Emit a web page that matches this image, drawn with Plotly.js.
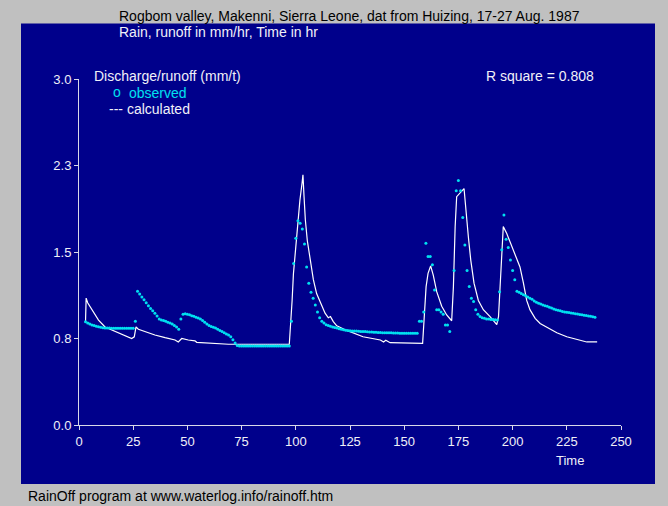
<!DOCTYPE html>
<html>
<head>
<meta charset="utf-8">
<script src="https://cdn.plot.ly/plotly-3.0.1.min.js"></script>
<style>html,body{margin:0;padding:0;background:#c0c0c0;}#chart{width:668px;height:506px;}</style>
</head>
<body>
<div id="chart"></div>
<script>
// ---- data (time in hr, discharge in mm/hr) ----
var obsTime = [
 3,4,5,6,7,8,9,10,11,12,13,14,15,16,17,18,19,20,21,22,23,24,25,
 26,27,28,29,30,31,32,33,34,35,36,37,38,39,40,41,42,43,44,45,46,
 47,48,49,50,51,52,53,54,55,56,57,58,59,60,61,62,63,64,65,66,67,68,69,70,71,72,73,
 74,75,76,77,78,79,80,81,82,83,84,85,86,87,88,89,90,91,92,93,94,95,96,97,
 98,99,100,101,102,103,104,105,106,107,108,109,110,111,112,113,114,115,116,117,118,119,120,
 121,122,123,124,125,126,127,128,129,130,131,132,133,134,135,136,137,138,139,140,
 141,142,143,144,145,146,147,148,149,150,151,152,153,154,155,156,
 157,158,159,160,161,162,163,164,165,166,167,168,169,170,171,
 173,174,175,176,177,178,179,180,181,182,183,184,185,186,187,188,189,190,191,192,193,
 194,195,196,197,198,199,200,201,202,203,204,205,206,207,208,209,210,
 211,212,213,214,215,216,217,218,219,220,221,222,223,224,225,226,227,228,229,230,
 231,232,233,234,235,236,237,238
];
var obsQ = [
 0.895,0.885,0.875,0.868,0.862,0.856,0.851,0.847,0.844,0.842,0.840,0.840,0.839,0.839,0.838,0.838,0.838,0.838,0.838,0.838,0.838,0.838,0.838,
 0.90,1.16,1.135,1.11,1.085,1.06,1.035,1.01,0.99,0.97,0.945,0.92,0.91,0.905,0.90,0.89,0.885,0.875,0.862,0.85,0.83,
 0.92,0.96,0.965,0.96,0.955,0.948,0.942,0.935,0.928,0.92,0.905,0.89,0.875,0.862,0.855,0.848,0.84,0.83,0.82,0.81,0.80,0.79,0.78,0.765,0.74,0.71,0.69,
 0.685,0.685,0.685,0.685,0.685,0.685,0.685,0.685,0.685,0.685,0.685,0.685,0.685,0.685,0.685,0.685,0.685,0.685,0.685,0.685,0.685,0.685,0.685,0.685,
 0.90,1.40,1.62,1.77,1.75,1.70,1.57,1.37,1.23,1.15,1.10,1.04,0.98,0.93,0.90,0.885,0.87,0.862,0.856,0.85,0.845,0.84,0.835,
 0.83,0.825,0.822,0.82,0.818,0.816,0.815,0.814,0.812,0.811,0.81,0.81,0.808,0.807,0.806,0.805,0.804,0.803,0.802,0.80,
 0.80,0.80,0.80,0.80,0.798,0.798,0.798,0.796,0.796,0.796,0.796,0.796,0.796,0.796,0.796,0.796,
 0.90,0.90,0.98,1.575,1.46,1.46,1.39,1.17,1.00,1.00,0.98,0.96,0.867,0.867,0.81,
 1.34,2.03,2.12,2.03,1.80,1.56,1.34,1.20,1.10,1.07,1.00,0.96,0.94,0.93,0.925,0.92,0.918,0.915,0.915,0.912,0.91,
 1.156,1.52,1.82,1.61,1.54,1.43,1.34,1.26,1.16,1.15,1.14,1.13,1.12,1.11,1.10,1.09,1.075,
 1.065,1.055,1.05,1.04,1.035,1.03,1.02,1.015,1.005,1.00,0.995,0.99,0.985,0.98,0.978,0.975,0.972,0.97,0.965,0.962,
 0.958,0.955,0.952,0.95,0.945,0.942,0.938,0.935
];
var calcTime = [3,3.3,4,6,9,12,16.6,21.2,24.3,25.5,26.3,27.4,30.4,35,39.7,44.3,45.8,47.4,50.4,53.5,54.3,60,62,69,97,
 97.6,98.3,98.9,99.8,100.7,101.9,102.9,103.3,103.8,104.4,105.3,106.6,108.1,109.6,111.5,113.5,115,116,117.3,118.9,123.5,131,139,140.5,141.5,143.5,158.5,
 159.2,160.1,161,162.2,163.4,165,167.3,169.6,171.9,172.7,173.5,174.2,177.6,178.5,179.6,180.7,182.2,184.2,186.5,189.6,192.7,
 193.5,194.2,195,195.7,197.3,199.6,201.9,203.4,205,206.5,208,210.4,212.7,216.5,220.4,225,229.6,234.2,239];
var calcQ = [0.89,1.10,1.06,1.0,0.91,0.85,0.81,0.775,0.75,0.765,0.85,0.83,0.81,0.78,0.757,0.737,0.72,0.75,0.737,0.73,0.717,0.712,0.705,0.70,0.70,
 0.84,1.08,1.31,1.52,1.72,1.95,2.10,2.17,1.98,1.78,1.60,1.43,1.26,1.14,1.055,0.97,0.93,0.94,0.896,0.86,0.82,0.765,0.737,0.72,0.735,0.714,0.708,
 0.91,1.20,1.315,1.38,1.30,1.156,1.03,0.954,0.904,1.20,1.72,1.98,2.05,1.835,1.63,1.43,1.23,1.08,1.00,0.94,0.87,
 0.94,1.23,1.52,1.72,1.66,1.55,1.445,1.37,1.23,1.08,1.00,0.925,0.88,0.84,0.80,0.765,0.743,0.72,0.72];
var yTickVals = [0, 0.75, 1.5, 2.25, 3.0];
var yTickText = ["0.0", "0.8", "1.5", "2.3", "3.0"];
var xTickVals = [0,25,50,75,100,125,150,175,200,225,250];

// ---- layout helpers (pixel -> paper) ----
var L = 79, R = 621, T = 79, B = 425;
function PX(x){ return (x - L) / (R - L); }
function PY(y){ return (B - y) / (B - T); }
function ann(text, x, y, color, anchor, size){
  return {text: text, x: PX(x), y: PY(y), xref: 'paper', yref: 'paper', showarrow: false,
    xanchor: anchor || 'left', yanchor: 'middle', font: {color: color, size: size || 14}};
}
var FG = '#f0f0f8';
var BLUE = '#00008b';
var CYAN = '#00e0f0';

var traces = [
  {x: calcTime, y: calcQ, mode: 'lines', type: 'scatter', line: {color: '#ffffff', width: 1.2}, hoverinfo: 'skip'},
  {x: obsTime, y: obsQ, mode: 'markers', type: 'scatter', marker: {color: CYAN, size: 3, symbol: 'circle'}, hoverinfo: 'skip'}
];

var layout = {
  width: 668, height: 506,
  margin: {l: L, r: 668 - R, t: T, b: 506 - B, pad: 0},
  paper_bgcolor: '#c0c0c0', plot_bgcolor: BLUE,
  showlegend: false,
  font: {family: 'Liberation Sans, Arial, sans-serif', size: 13, color: FG},
  xaxis: {range: [0, 250], tickvals: xTickVals, showgrid: false, zeroline: false,
    showline: true, linecolor: '#d8d8e8', linewidth: 1, ticks: 'outside', ticklen: 4, tickcolor: '#d8d8e8',
    tickfont: {color: FG, size: 13}, fixedrange: true},
  yaxis: {range: [0, 3], tickvals: yTickVals, ticktext: yTickText, showgrid: false, zeroline: false,
    showline: true, linecolor: '#d8d8e8', linewidth: 1, ticks: 'outside', ticklen: 4, tickcolor: '#d8d8e8',
    tickfont: {color: FG, size: 13}, fixedrange: true},
  shapes: [
    {type: 'rect', xref: 'paper', yref: 'paper', x0: PX(21), x1: PX(655), y0: PY(484), y1: PY(23.5),
     fillcolor: BLUE, line: {width: 0}, layer: 'below'}
  ],
  annotations: [
    ann('Rogbom valley, Makenni, Sierra Leone, dat from Huizing, 17-27 Aug. 1987', 117, 16.5, '#000000'),
    ann('Rain, runoff in mm/hr, Time in hr', 117, 32, FG),
    ann('Discharge/runoff (mm/t)', 92, 76, FG),
    ann('o', 111, 92, CYAN),
    ann('observed', 127, 93, CYAN),
    ann('--- calculated', 107, 109, FG),
    ann('R square = 0.808', 484, 76, FG),
    ann('Time', 570, 460, FG, 'center', 13),
    ann('RainOff program at www.waterlog.info/rainoff.htm', 26, 496, '#000000')
  ]
};

Plotly.newPlot('chart', traces, layout, {displayModeBar: false, staticPlot: true});
</script>
</body>
</html>
